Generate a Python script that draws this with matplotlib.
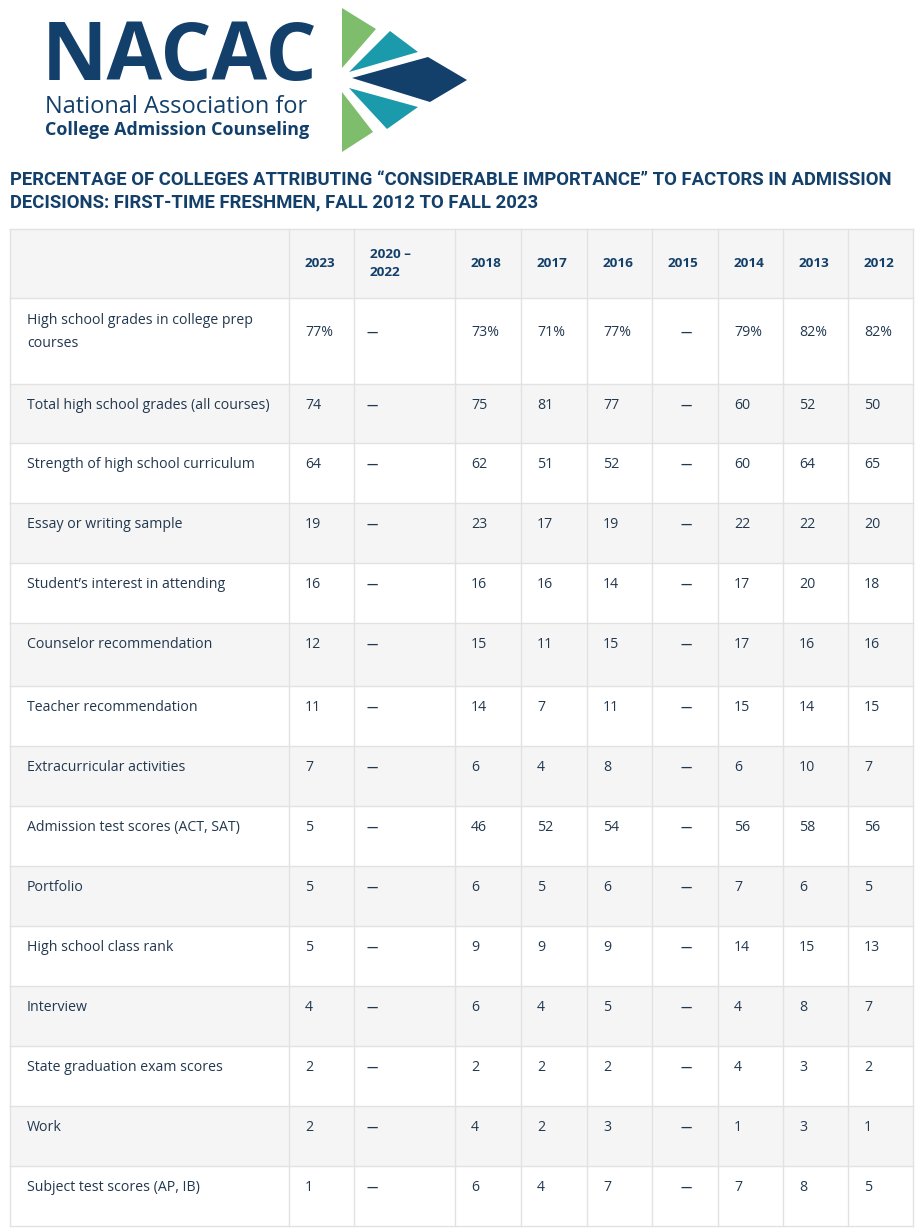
import matplotlib.pyplot as plt
from matplotlib.patches import Polygon, Rectangle

# ---------- data ----------
years = ["2023", "2020 –\n2022", "2018", "2017", "2016", "2015", "2014", "2013", "2012"]
factors = [
    "High school grades in college prep\ncourses",
    "Total high school grades (all courses)",
    "Strength of high school curriculum",
    "Essay or writing sample",
    "Student\u2019s interest in attending",
    "Counselor recommendation",
    "Teacher recommendation",
    "Extracurricular activities",
    "Admission test scores (ACT, SAT)",
    "Portfolio",
    "High school class rank",
    "Interview",
    "State graduation exam scores",
    "Work",
    "Subject test scores (AP, IB)",
]
v2023 = [77, 74, 64, 19, 16, 12, 11, 7, 5, 5, 5, 4, 2, 2, 1]
v2018 = [73, 75, 62, 23, 16, 15, 14, 6, 46, 6, 9, 6, 2, 4, 6]
v2017 = [71, 81, 51, 17, 16, 11, 7, 4, 52, 5, 9, 4, 2, 2, 4]
v2016 = [77, 77, 52, 19, 14, 15, 11, 8, 54, 6, 9, 5, 2, 3, 7]
v2014 = [79, 60, 60, 22, 17, 17, 15, 6, 56, 7, 14, 4, 4, 1, 7]
v2013 = [82, 52, 64, 22, 20, 16, 14, 10, 58, 6, 15, 8, 3, 3, 8]
v2012 = [82, 50, 65, 20, 18, 16, 15, 7, 56, 5, 13, 7, 2, 1, 5]
columns = [v2023, None, v2018, v2017, v2016, None, v2014, v2013, v2012]

title = ("PERCENTAGE OF COLLEGES ATTRIBUTING \u201cCONSIDERABLE IMPORTANCE\u201d TO FACTORS IN ADMISSION\n"
         "DECISIONS: FIRST-TIME FRESHMEN, FALL 2012 TO FALL 2023")

# ---------- layout (pixels) ----------
W, H = 922, 1231
col_edges = [10, 289, 354, 455, 521, 587, 652, 718, 783, 848, 913]
row_edges = [229, 298, 384, 443, 503, 563, 623, 683, 746, 806, 866, 926, 986, 1046, 1106, 1166, 1226]
row_edges[7] = 686

NAVY = "#13406b"
TEXT = "#22384f"
GRID = "#e2e2e2"
SHADE = "#f5f5f5"

fig = plt.figure(figsize=(W / 100, H / 100), dpi=100)
ax = fig.add_axes([0, 0, 1, 1])
ax.set_xlim(0, W)
ax.set_ylim(H, 0)
ax.axis("off")

# ---------- logo ----------
ax.text(42, 59, "NACAC", fontsize=58, fontweight="bold", color=NAVY,
        family=["Open Sans", "DejaVu Sans"], va="center", ha="left")
ax.text(45, 107, "National Association for", fontsize=17, color=NAVY,
        family=["Open Sans", "DejaVu Sans"], va="center", ha="left")
ax.text(45, 130, "College Admission Counseling", fontsize=12.9, fontweight="bold",
        color=NAVY, family=["Open Sans", "DejaVu Sans"], va="center", ha="left")
shapes = [
    ([(342, 8), (376, 29), (342, 68)], "#7dbd6b"),
    ([(349, 72), (390, 31), (418, 52)], "#1b9aab"),
    ([(352, 78), (428, 57), (467, 80), (430, 102)], NAVY),
    ([(349, 88), (418, 107), (387, 129)], "#1b9aab"),
    ([(342, 92), (373, 132), (342, 152)], "#7dbd6b"),
]
for pts, c in shapes:
    ax.add_patch(Polygon(pts, closed=True, facecolor=c, edgecolor="none"))

# ---------- title ----------
ax.text(10, 191, title, fontsize=13.3, fontweight="bold", color=NAVY,
        family=["Roboto", "DejaVu Sans"], va="center", ha="left",
        linespacing=1.3)

# ---------- table ----------
nrows = len(row_edges) - 1
for r in range(nrows):
    top, bot = row_edges[r], row_edges[r + 1]
    shade = SHADE if r % 2 == 0 else "white"
    ax.add_patch(Rectangle((col_edges[0], top), col_edges[-1] - col_edges[0], bot - top,
                           facecolor=shade, edgecolor="none"))
    ax.plot([col_edges[0], col_edges[-1]], [top, top], color=GRID, lw=1)
    for x in col_edges:
        ax.plot([x, x], [top, bot], color=GRID, lw=1)
ax.plot([col_edges[0], col_edges[-1]], [row_edges[-1]] * 2, color=GRID, lw=1)

font = ["Open Sans", "DejaVu Sans"]
# header
for j, yr in enumerate(years):
    ax.text(col_edges[j + 1] + 16, (row_edges[0] + row_edges[1]) / 2, yr,
            fontsize=9.7, fontweight="bold", color=NAVY, family=font,
            va="center", ha="left", linespacing=1.5)

dash_off = {1: 12, 5: 28}
for i, name in enumerate(factors):
    top = row_edges[i + 1]
    yc = top + 34 if "\n" in name else top + 21.5
    ax.text(27, yc, name, fontsize=10.2, color=TEXT, family=font,
            va="center", ha="left", linespacing=1.8)
    for j, col in enumerate(columns):
        left = col_edges[j + 1]
        if col is None:
            ax.text(left + dash_off[j], yc, "\u2014", fontsize=8, color=TEXT,
                    family=font, fontweight="bold", va="center", ha="left")
        else:
            s = f"{col[i]}%" if i == 0 else str(col[i])
            ax.text(left + 16, yc, s, fontsize=10.2, color=TEXT, family=font,
                    va="center", ha="left")

fig.savefig("out.png", dpi=100)
